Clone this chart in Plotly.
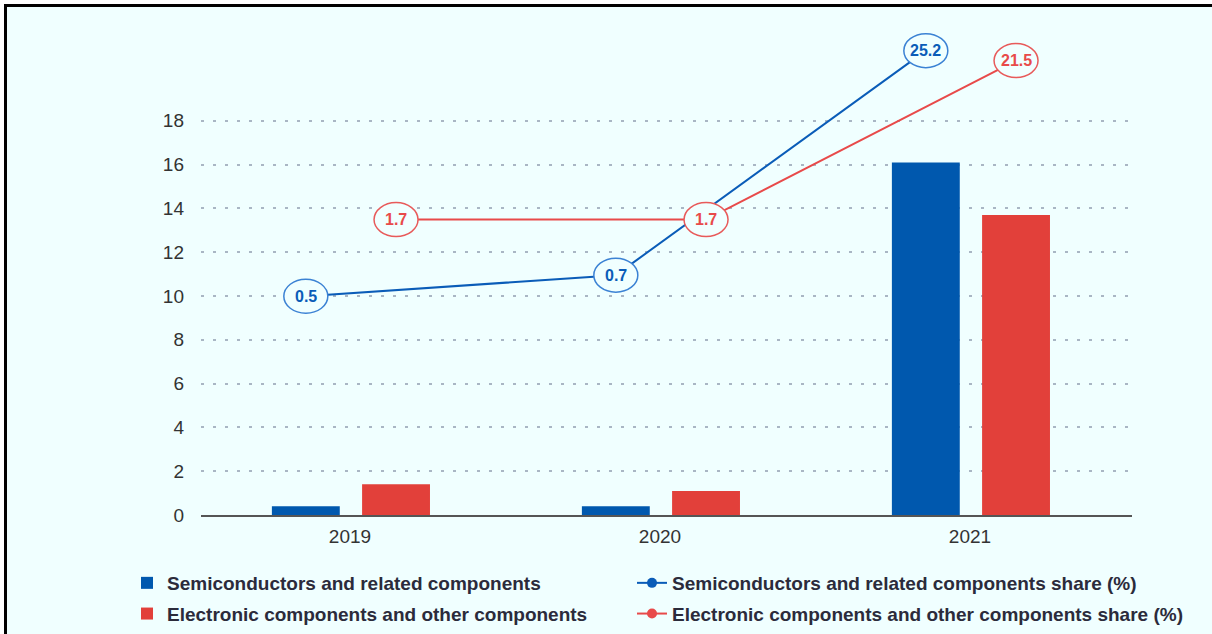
import math
import plotly.graph_objects as go

# ---------------- data ----------------
years = ["2019", "2020", "2021"]
semi_values = [0.4, 0.4, 16.1]
elec_values = [1.4, 1.1, 13.7]
semi_share = [0.5, 0.7, 25.2]
elec_share = [1.7, 1.7, 21.5]
y_ticks = [0, 2, 4, 6, 8, 10, 12, 14, 16, 18]

semi_name = "Semiconductors and related components"
elec_name = "Electronic components and other components"
semi_share_name = "Semiconductors and related components share (%)"
elec_share_name = "Electronic components and other components share (%)"

# ---------------- style ----------------
W, H = 1212, 634
ML, MR, MT, MB = 201, 80, 25, 119
PW, PH = W - ML - MR, H - MT - MB
BG = "#f0ffff"
BLUE_BAR = "#0058ae"
RED_BAR = "#e2403a"
BLUE_LINE = "#0a5cb8"
RED_LINE = "#e84a4a"
BLUE_RING = "#3b82d4"
RED_RING = "#e85a5a"
TEXT = "#2b2b3b"
FONT = "Liberation Sans, Arial, sans-serif"

LOG_RANGE = [-1.817, 1.579]
px_per_decade = PH / (LOG_RANGE[1] - LOG_RANGE[0])
ring_half_h = 17
ring_f = 10 ** (ring_half_h / px_per_decade)

xs = list(range(len(years)))
bar_w = 0.219
semi_off, elec_off = -0.252, 0.039
semi_x = [x + semi_off + bar_w / 2 for x in xs]
elec_x = [x + elec_off + bar_w / 2 for x in xs]

fig = go.Figure()
fig.add_trace(go.Bar(x=xs, y=semi_values, name=semi_name, marker_color=BLUE_BAR,
                     width=bar_w, offset=semi_off, marker_line_width=0,
                     legend="legend", legendgroup="a"))
fig.add_trace(go.Bar(x=xs, y=elec_values, name=elec_name, marker_color=RED_BAR,
                     width=bar_w, offset=elec_off, marker_line_width=0,
                     legend="legend", legendgroup="b"))
fig.add_trace(go.Scatter(x=semi_x, y=semi_share, name=semi_share_name, yaxis="y2",
                         mode="lines+markers", line=dict(color=BLUE_LINE, width=2),
                         marker=dict(size=10, color=BLUE_LINE),
                         legend="legend2", legendgroup="c"))
fig.add_trace(go.Scatter(x=elec_x, y=elec_share, name=elec_share_name, yaxis="y2",
                         mode="lines+markers", line=dict(color=RED_LINE, width=2),
                         marker=dict(size=10, color=RED_LINE),
                         legend="legend2", legendgroup="d"))

shapes = []
annotations = []
for sx, sv, ring, col in [(semi_x, semi_share, BLUE_RING, BLUE_LINE),
                          (elec_x, elec_share, RED_RING, RED_LINE)]:
    for xv, v in zip(sx, sv):
        shapes.append(dict(type="circle", xref="x", yref="y2", xsizemode="pixel",
                           xanchor=xv, x0=-22, x1=22,
                           y0=v / ring_f, y1=v * ring_f, layer="above",
                           fillcolor=BG, line=dict(color=ring, width=1.5)))
        annotations.append(dict(x=xv, y=math.log10(v), xref="x", yref="y2",
                                text=f"<b>{v}</b>", showarrow=False,
                                font=dict(size=16, color=col, family=FONT)))


def px2x(p):
    return (p - ML) / PW


def py2y(p):
    return (H - MB - p) / PH


shapes.insert(0, dict(type="rect", xref="paper", yref="paper", layer="below",
                      x0=px2x(5.5), x1=px2x(W + 20), y0=py2y(5.5), y1=py2y(H + 20),
                      fillcolor=BG, line=dict(color="black", width=3)))

x_left = -(350 - ML) / 310
x_right = x_left + PW / 310
y_top = PH / 21.9

leg_font = dict(size=19, color=TEXT, family=FONT, weight="bold")
fig.update_layout(
    width=W, height=H,
    margin=dict(l=ML, r=MR, t=MT, b=MB, pad=0, autoexpand=False),
    paper_bgcolor="white", plot_bgcolor="rgba(0,0,0,0)",
    font=dict(family=FONT, size=19, color="#333333"),
    showlegend=True,
    barmode="overlay",
    xaxis=dict(range=[x_left, x_right], tickvals=xs, ticktext=years, showgrid=False,
               zeroline=False, showline=True, linecolor="#555555", linewidth=1.5,
               ticks="", ticklabelstandoff=3, tickfont=dict(size=19, color="#333333"),
               fixedrange=True),
    yaxis=dict(range=[0, y_top], tickvals=y_ticks, showgrid=True, gridcolor="#a9b6c4",
               gridwidth=1.5, griddash="3px,9px", zeroline=False, showline=False,
               ticks="", ticklabelstandoff=16, tickfont=dict(size=19, color="#333333")),
    yaxis2=dict(type="log", range=LOG_RANGE, overlaying="y", side="right",
                visible=False, showgrid=False),
    legend=dict(orientation="v", x=px2x(127), y=py2y(564), xanchor="left", yanchor="top",
                font=leg_font, bgcolor="rgba(0,0,0,0)", tracegroupgap=3,
                traceorder="grouped"),
    legend2=dict(orientation="v", x=px2x(632), y=py2y(564), xanchor="left", yanchor="top",
                 font=leg_font, bgcolor="rgba(0,0,0,0)", tracegroupgap=3,
                 traceorder="grouped"),
    shapes=shapes,
    annotations=annotations,
)

fig.write_html("out.html")
